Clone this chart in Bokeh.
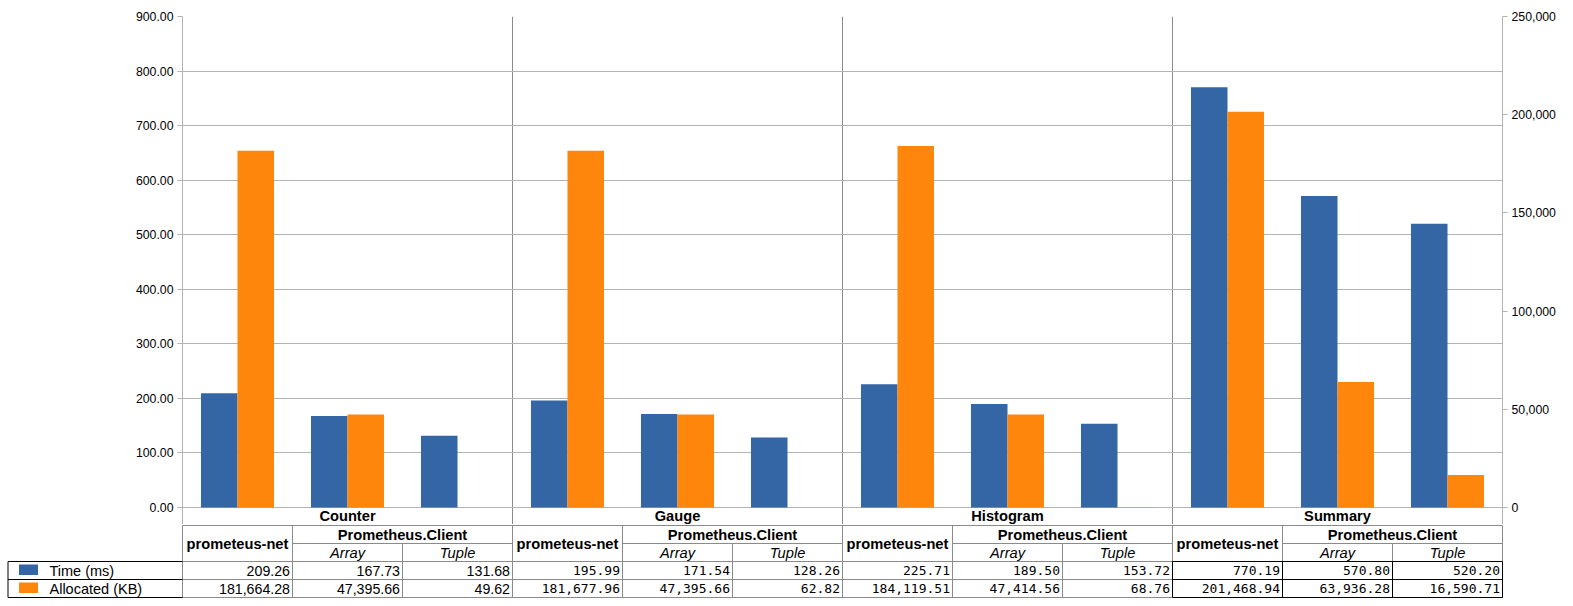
import numpy as np
from bokeh.plotting import figure
from bokeh.models import Range1d, LinearAxis, FixedTicker, NumeralTickFormatter, Grid
from bokeh.layouts import column
from bokeh.core.properties import value
from bokeh.embed import file_html
from bokeh.resources import INLINE

# ---------------- data ----------------
groups = ["Counter", "Gauge", "Histogram", "Summary"]
libraries = ["prometeus-net", "Prometheus.Client"]
variants = ["Array", "Tuple"]
series_names = ["Time (ms)", "Allocated (KB)"]
time_ms = [209.26, 167.73, 131.68, 195.99, 171.54, 128.26,
           225.71, 189.50, 153.72, 770.19, 570.80, 520.20]
allocated_kb = [181664.28, 47395.66, 49.62, 181677.96, 47395.66, 62.82,
                184119.51, 47414.56, 68.76, 201468.94, 63936.28, 16590.71]
left_ticks = [0, 100, 200, 300, 400, 500, 600, 700, 800, 900]
right_ticks = [0, 50000, 100000, 150000, 200000, 250000]

# ---------------- style / layout ----------------
BLUE = "#3465a4"
ORANGE = "#ff860d"
COLORS = [BLUE, ORANGE]
GRID = "#b3b3b3"
CELL = "#8a8a8a"
FONT = "Liberation Sans"
MONO = "DejaVu Sans Mono"

W = 1573
FRAME_LEFT = 182
FRAME_RIGHT = 71
N = len(time_ms)
PX_CAT = (W - FRAME_LEFT - FRAME_RIGHT) / N
TOP_H = 524
TOP_BORDER = 16
PLOT_PX = 491.0          # pixels between 0 and max of left axis
YMAX = left_ticks[-1]
PX_PER_UNIT = PLOT_PX / YMAX
ROW_PX = 18.0
HEADER_PX = TOP_H - TOP_BORDER - PLOT_PX   # header row below zero line
y_start = -HEADER_PX / PX_PER_UNIT
RMAX = right_ticks[-1]

cols_per_group = 1 + len(variants)
centers = np.arange(N) + 0.5
BAR_W = 0.332

# ---------------- chart figure ----------------
p = figure(width=W, height=TOP_H, title=None,
           x_range=Range1d(0, N), y_range=Range1d(y_start, YMAX),
           x_axis_location=None, output_backend="svg", toolbar_location=None,
           min_border_left=FRAME_LEFT, min_border_right=FRAME_RIGHT,
           min_border_top=TOP_BORDER, min_border_bottom=0)
p.outline_line_color = None
p.frame_align = False
p.extra_y_ranges = {"alloc": Range1d(y_start * RMAX / YMAX, RMAX)}

yax = p.yaxis[0]
yax.ticker = FixedTicker(ticks=left_ticks)
yax.formatter = NumeralTickFormatter(format="0.00")
rax = LinearAxis(y_range_name="alloc", ticker=FixedTicker(ticks=right_ticks),
                 formatter=NumeralTickFormatter(format="0,0"))
p.add_layout(rax, "right")
for ax in (yax, rax):
    ax.axis_line_color = GRID
    ax.major_tick_line_color = GRID
    ax.major_tick_in = 0
    ax.major_tick_out = 5
    ax.minor_tick_line_color = None
    ax.major_label_standoff = 4
    ax.major_label_text_font = FONT
    ax.major_label_text_font_size = "12.3px"
    ax.major_label_text_color = "#000000"

p.ygrid.ticker = FixedTicker(ticks=left_ticks)
p.ygrid.grid_line_color = GRID
boundaries = [cols_per_group * g for g in range(1, len(groups))]
if len(p.xgrid) > 0:
    p.xgrid.ticker = FixedTicker(ticks=boundaries)
    p.xgrid.grid_line_color = CELL
else:
    p.add_layout(Grid(dimension=0, ticker=FixedTicker(ticks=boundaries),
                      grid_line_color=CELL))

p.vbar(x=centers - BAR_W / 2, top=time_ms, width=BAR_W, bottom=0,
       fill_color=BLUE, line_color=None)
p.vbar(x=centers + BAR_W / 2, top=allocated_kb, width=BAR_W, bottom=0,
       fill_color=ORANGE, line_color=None, y_range_name="alloc")

group_centers = [cols_per_group * g + cols_per_group / 2 for g in range(len(groups))]
p.text(x=group_centers, y=[y_start / 2] * len(groups), text=groups,
       text_align="center", text_baseline="middle",
       text_font=value(FONT), text_font_size="14.67px", text_font_style="bold",
       text_color="#000000")

# ---------------- table figure ----------------
BOT_H = 606 - TOP_H
x0 = -FRAME_LEFT / PX_CAT
x1 = (W - FRAME_LEFT) / PX_CAT
q = figure(width=W, height=BOT_H, title=None,
           x_range=Range1d(x0, x1),
           y_range=Range1d((BOT_H - 1) / ROW_PX, -1 / ROW_PX),
           x_axis_location=None, y_axis_location=None,
           output_backend="svg", toolbar_location=None,
           min_border_left=0, min_border_right=0, min_border_top=0, min_border_bottom=0)
q.outline_line_color = None
q.frame_align = False
q.xgrid.visible = False
q.ygrid.visible = False

leg_x0 = x0 + 7.5 / PX_CAT
n_groups = len(groups)
last = n_groups - 1
gx0, gy0, gx1, gy1 = [], [], [], []
bx0, by0, bx1, by1 = [], [], [], []

def seg(lst, a, b, c, d):
    lst[0].append(a); lst[1].append(b); lst[2].append(c); lst[3].append(d)

G = (gx0, gy0, gx1, gy1)
B = (bx0, by0, bx1, by1)
seg(G, 0, 0, N, 0)
seg(G, 0, 0, 0, 4)
for g in range(n_groups):
    base = g * cols_per_group
    seg(G, base + 1, 1, base + cols_per_group, 1)
    seg(G, base, 0, base, 2)
    seg(G, base + 1, 0, base + 1, 2)
    seg(G, base + 2, 1, base + 2, 2)
    tgt = B if g == last else G
    for c in range(1 if g == 0 else 0, cols_per_group + (1 if g == last else 0)):
        seg(tgt, base + c, 2, base + c, 4)
    for r in (2, 3, 4):
        seg(tgt, base, r, base + cols_per_group, r)
seg(G, N, 0, N, 2)
for r in (2, 3, 4):
    seg(B, leg_x0, r, 0, r)
seg(B, leg_x0, 2, leg_x0, 4)

q.segment(x0=gx0, y0=gy0, x1=gx1, y1=gy1, line_color=CELL, line_width=1)
q.segment(x0=bx0, y0=by0, x1=bx1, y1=by1, line_color="#000000", line_width=1)

# header texts
q.text(x=[g * cols_per_group + 0.5 for g in range(n_groups)], y=[1.0] * n_groups,
       text=[libraries[0]] * n_groups, text_align="center", text_baseline="middle",
       text_font=value(FONT), text_font_size="14.67px", text_font_style="bold",
       text_color="#000000")
q.text(x=[g * cols_per_group + 1 + len(variants) / 2 for g in range(n_groups)],
       y=[0.5] * n_groups, text=[libraries[1]] * n_groups,
       text_align="center", text_baseline="middle",
       text_font=value(FONT), text_font_size="14.67px", text_font_style="bold",
       text_color="#000000")
vx, vt = [], []
for g in range(n_groups):
    for k, v in enumerate(variants):
        vx.append(g * cols_per_group + 1 + k + 0.5)
        vt.append(v)
q.text(x=vx, y=[1.5] * len(vx), text=vt, text_align="center", text_baseline="middle",
       text_font=value(FONT), text_font_size="14.67px", text_font_style="italic",
       text_color="#000000")

# values
pad = 2.5 / PX_CAT
right_edges = np.arange(N) + 1 - pad
series_vals = [time_ms, allocated_kb]
for r, vals in enumerate(series_vals):
    labels = ["{:,.2f}".format(v) for v in vals]
    q.text(x=right_edges[:cols_per_group], y=[2.5 + r] * cols_per_group,
           text=labels[:cols_per_group], text_align="right", text_baseline="middle",
           text_font=value(FONT), text_font_size="14.2px", text_color="#000000")
    q.text(x=right_edges[cols_per_group:], y=[2.5 + r] * (N - cols_per_group),
           text=labels[cols_per_group:], text_align="right", text_baseline="middle",
           text_font=value(MONO), text_font_size="13px", text_color="#000000")

# legend column
rows = np.arange(len(series_names)) + 2
q.quad(left=[leg_x0 + 11 / PX_CAT] * len(series_names),
       right=[leg_x0 + 30 / PX_CAT] * len(series_names),
       top=rows + 3 / ROW_PX, bottom=rows + 13.5 / ROW_PX,
       fill_color=COLORS, line_color=None)
q.text(x=[leg_x0 + 41.5 / PX_CAT] * len(series_names), y=rows + 0.5,
       text=series_names, text_align="left", text_baseline="middle",
       text_font=value(FONT), text_font_size="14.5px", text_color="#000000")

layout = column(p, q, spacing=0)
open("out.html", "w").write(file_html(layout, INLINE))
